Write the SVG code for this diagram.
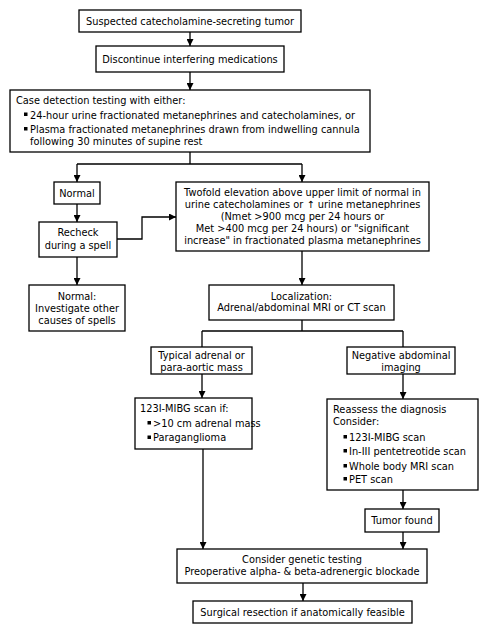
<svg xmlns="http://www.w3.org/2000/svg" width="488" height="634" viewBox="0 0 488 634">
<style>
.box{fill:#fff;stroke:#000;stroke-width:1.3}
text{font-family:"DejaVu Sans","Verdana",sans-serif;font-size:9.8px;fill:#000}
.c{text-anchor:middle}
.ln{fill:none;stroke:#000;stroke-width:1.3}
.b{fill:#000}
</style>
<defs>
<marker id="ah" viewBox="0 0 10 10" refX="10" refY="5" markerWidth="7" markerHeight="7" markerUnits="userSpaceOnUse" orient="auto">
<path d="M0,0 L10,5 L0,10 z" fill="#000"/>
</marker>
</defs>
<rect width="488" height="634" fill="#fff"/>
<g id="connectors">
<path class="ln" d="M190,32 V46" marker-end="url(#ah)"/>
<path class="ln" d="M190,72 V90" marker-end="url(#ah)"/>
<path class="ln" d="M190,152 V164 M77,164 H302"/>
<path class="ln" d="M77,164 V182" marker-end="url(#ah)"/>
<path class="ln" d="M302,164 V182" marker-end="url(#ah)"/>
<path class="ln" d="M77,204 V222" marker-end="url(#ah)"/>
<path class="ln" d="M117,239 H142 V217 H176" marker-end="url(#ah)"/>
<path class="ln" d="M77,257 V285" marker-end="url(#ah)"/>
<path class="ln" d="M302,251 V285" marker-end="url(#ah)"/>
<path class="ln" d="M302,320 V331 M202,331 H403 M202,331 V347 M403,331 V347"/>
<path class="ln" d="M202,374 V398" marker-end="url(#ah)"/>
<path class="ln" d="M403,374 V399" marker-end="url(#ah)"/>
<path class="ln" d="M203,449 V549" marker-end="url(#ah)"/>
<path class="ln" d="M403,490 V509" marker-end="url(#ah)"/>
<path class="ln" d="M403,532 V549" marker-end="url(#ah)"/>
<path class="ln" d="M303,583 V601" marker-end="url(#ah)"/>
</g>
<g id="n1"><rect class="box" x="79" y="10" width="222" height="22"/><text class="c" x="190" y="24.5">Suspected catecholamine-secreting tumor</text></g>
<g id="n2"><rect class="box" x="96" y="46" width="188" height="26"/><text class="c" x="190" y="62.5">Discontinue interfering medications</text></g>
<g id="n3"><rect class="box" x="10" y="90" width="360" height="62"/>
<text x="16" y="103.5">Case detection testing with either:</text>
<rect class="b" x="24" y="112.5" width="3.5" height="3.5"/>
<text x="30" y="118.5">24-hour urine fractionated metanephrines and catecholamines, or</text>
<rect class="b" x="24" y="127" width="3.5" height="3.5"/>
<text x="30" y="133">Plasma fractionated metanephrines drawn from indwelling cannula</text>
<text x="30" y="144.5">following 30 minutes of supine rest</text></g>
<g id="n4"><rect class="box" x="54" y="182" width="46" height="22"/><text class="c" x="77" y="196.5">Normal</text></g>
<g id="n5"><rect class="box" x="39" y="222" width="78" height="35"/><text class="c" x="78" y="235.5">Recheck</text><text class="c" x="78" y="248.5">during a spell</text></g>
<g id="n6"><rect class="box" x="176" y="182" width="253" height="69"/>
<text class="c" x="302.5" y="196">Twofold elevation above upper limit of normal in</text>
<text class="c" x="302.5" y="208">urine catecholamines or ↑ urine metanephrines</text>
<text class="c" x="302.5" y="220">(Nmet &gt;900 mcg per 24 hours or</text>
<text class="c" x="302.5" y="232">Met &gt;400 mcg per 24 hours) or "significant</text>
<text class="c" x="302.5" y="244">increase" in fractionated plasma metanephrines</text></g>
<g id="n7"><rect class="box" x="29" y="285" width="96" height="46"/>
<text class="c" x="77" y="299.5">Normal:</text><text class="c" x="77" y="311.5">Investigate other</text><text class="c" x="77" y="324">causes of spells</text></g>
<g id="n8"><rect class="box" x="209" y="285" width="185" height="35"/>
<text class="c" x="301.5" y="299.5">Localization:</text><text class="c" x="301.5" y="311">Adrenal/abdominal MRI or CT scan</text></g>
<g id="n9"><rect class="box" x="151" y="347" width="101" height="27"/>
<text class="c" x="201.5" y="358.5">Typical adrenal or</text><text class="c" x="201.5" y="370.5">para-aortic mass</text></g>
<g id="n10"><rect class="box" x="347" y="347" width="108" height="27"/>
<text class="c" x="401" y="358.5">Negative abdominal</text><text class="c" x="401" y="370.5">imaging</text></g>
<g id="n11"><rect class="box" x="135" y="398" width="117" height="51"/>
<text x="140" y="412">123I-MIBG scan if:</text>
<rect class="b" x="147.5" y="421" width="3.5" height="3.5"/><text x="153" y="426.5">&gt;10 cm adrenal mass</text>
<rect class="b" x="147.5" y="435.5" width="3.5" height="3.5"/><text x="153" y="441">Paraganglioma</text></g>
<g id="n12"><rect class="box" x="327" y="399" width="151" height="91"/>
<text x="333" y="412.5">Reassess the diagnosis</text>
<text x="333" y="424.5">Consider:</text>
<rect class="b" x="343.5" y="435" width="3.5" height="3.5"/><text x="349" y="440.5">123I-MIBG scan</text>
<rect class="b" x="343.5" y="449" width="3.5" height="3.5"/><text x="349" y="454.5">In-III pentetreotide scan</text>
<rect class="b" x="343.5" y="464" width="3.5" height="3.5"/><text x="349" y="469.5">Whole body MRI scan</text>
<rect class="b" x="343.5" y="477" width="3.5" height="3.5"/><text x="349" y="482.5">PET scan</text></g>
<g id="n13"><rect class="box" x="365" y="509" width="74" height="23"/><text class="c" x="402" y="524">Tumor found</text></g>
<g id="n14"><rect class="box" x="177" y="549" width="250" height="34"/>
<text class="c" x="302" y="562.5">Consider genetic testing</text><text class="c" x="302" y="574.5">Preoperative alpha- &amp; beta-adrenergic blockade</text></g>
<g id="n15"><rect class="box" x="193" y="601" width="219" height="22"/><text class="c" x="302.5" y="615.5">Surgical resection if anatomically feasible</text></g>
</svg>
